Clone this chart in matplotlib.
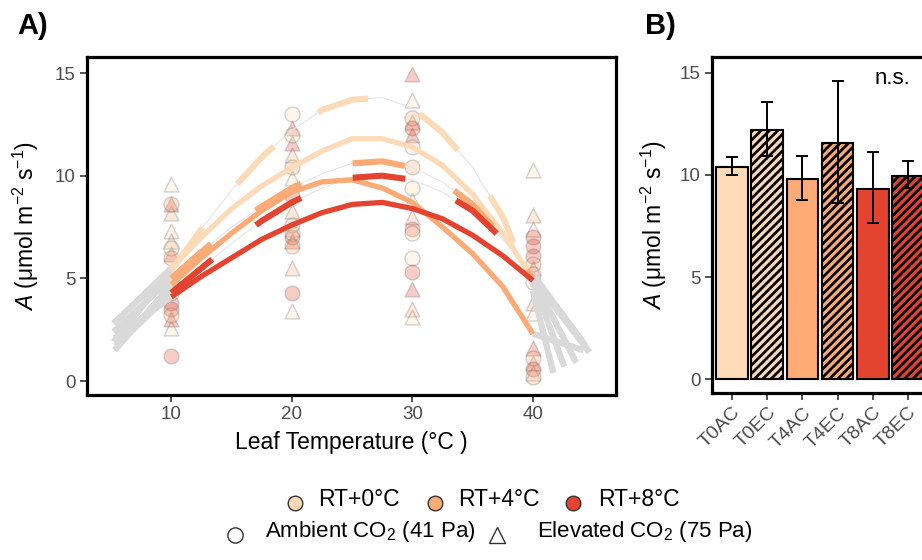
import numpy as np
import matplotlib
matplotlib.use('Agg')
import matplotlib.pyplot as plt
from matplotlib.lines import Line2D

plt.rcParams['font.family'] = ['Liberation Sans', 'DejaVu Sans']
plt.rcParams['mathtext.fontset'] = 'custom'
plt.rcParams['mathtext.rm'] = 'Liberation Sans'
plt.rcParams['mathtext.it'] = 'Liberation Sans:italic'
plt.rcParams['lines.scale_dashes'] = False
plt.rcParams['hatch.linewidth'] = 2.0

# ---------------- data ----------------
treat_colors = {'T0': '#FDDBB8', 'T4': '#FCAA76', 'T8': '#E4432F'}

# fitted temperature-response curves
fit_temp = [10, 12.5, 15, 17.5, 20, 22.5, 25, 27.5, 30, 32.5, 35, 37.5, 40]
fit_T0AC = [5.5, 7.0, 8.4, 9.5, 10.4, 11.2, 11.8, 11.8, 11.4, 10.5, 9.1, 7.2, 5.0]
fit_T4AC = [4.7, 6.0, 7.2, 8.3, 9.2, 9.7, 9.8, 9.4, 8.7, 7.5, 6.2, 4.6, 2.3]
fit_T8AC = [4.1, 5.1, 6.0, 6.9, 7.6, 8.2, 8.6, 8.7, 8.4, 7.9, 7.1, 6.1, 4.9]
fit_T0EC = [5.4, 7.4, 9.3, 10.9, 12.2, 13.2, 13.7, 13.8, 13.3, 12.1, 10.4, 8.0, 4.4]
fit_T4EC = [5.0, 6.3, 7.5, 8.5, 9.4, 10.1, 10.6, 10.7, 10.4, 9.7, 8.6, 7.0, 5.0]
fit_T8EC = [4.3, 5.5, 6.7, 7.8, 8.7, 9.4, 9.9, 10.0, 9.8, 9.2, 8.3, 6.9, 5.2]

# grey extrapolations beyond the measured range: (x_end, y_end)
ext_left_T = [5.2, 5.2, 5.3, 5.2, 5.3, 5.4]
ext_left_A = [2.8, 1.9, 1.5, 2.4, 2.1, 1.7]
ext_right_T = [44.7, 41.7, 44.2, 43.6, 42.6, 44.4]
ext_right_A = [1.4, 0.4, 1.5, 0.9, 0.7, 1.7]

# individual measurements
pt_temp = [10] * 18 + [20] * 18 + [30] * 18 + [40] * 18
pt_A = [9.6, 8.6, 8.2, 7.3, 6.8, 4.6, 2.6, 6.2, 3.0,
        8.6, 6.5, 6.0, 5.0, 3.8, 3.5, 3.2, 1.2, 4.3,
        11.6, 11.0, 12.3, 9.9, 8.3, 7.4, 6.8, 5.5, 3.4,
        13.0, 10.4, 9.0, 7.6, 7.0, 7.2, 6.6, 4.3, 12.0,
        14.95, 13.7, 12.6, 12.0, 8.8, 8.0, 4.5, 3.5, 3.1,
        12.8, 12.3, 11.4, 10.4, 9.4, 7.4, 7.2, 6.0, 5.3,
        10.3, 8.1, 7.4, 5.5, 3.8, 3.3, 1.6, 0.9, 0.4,
        7.0, 6.6, 6.1, 5.7, 5.2, 1.1, 0.6, 0.2, 4.8]
pt_trt = ['T0', 'T8', 'T4', 'T0', 'T4', 'T4', 'T0', 'T8', 'T8',
          'T4', 'T0', 'T4', 'T0', 'T8', 'T8', 'T4', 'T8', 'T0',
          'T8', 'T4', 'T8', 'T0', 'T4', 'T0', 'T8', 'T4', 'T0',
          'T0', 'T4', 'T8', 'T4', 'T8', 'T0', 'T4', 'T8', 'T0',
          'T8', 'T0', 'T4', 'T8', 'T0', 'T4', 'T8', 'T4', 'T0',
          'T4', 'T8', 'T0', 'T4', 'T0', 'T8', 'T0', 'T0', 'T8',
          'T0', 'T4', 'T0', 'T8', 'T4', 'T0', 'T8', 'T4', 'T0',
          'T8', 'T8', 'T8', 'T4', 'T0', 'T4', 'T8', 'T4', 'T0']
pt_co2 = (['EC'] * 9 + ['AC'] * 9) * 4

# panel B
bar_labels = ['T0AC', 'T0EC', 'T4AC', 'T4EC', 'T8AC', 'T8EC']
bar_mean = [10.41, 12.2, 9.82, 11.55, 9.31, 9.97]
bar_lo = [9.98, 10.93, 8.77, 8.61, 7.63, 9.35]
bar_hi = [10.87, 13.6, 10.93, 14.62, 11.13, 10.7]

# ---------------- figure ----------------
W, H = 922, 560
fig = plt.figure(figsize=(W / 100, H / 100), dpi=100)

def fx(px):
    return px / W

def fy(py):
    return 1 - py / H

axA = fig.add_axes([fx(87), fy(395), fx(616) - fx(87), fy(57) - fy(395)])
axB = fig.add_axes([fx(712), fy(393), fx(929) - fx(712), fy(57) - fy(393)])

tickcol = '#4D4D4D'
for ax in (axA, axB):
    for s in ax.spines.values():
        s.set_linewidth(2.3)
        s.set_color('black')
    ax.tick_params(axis='both', direction='out', length=5, width=1.2,
                   color='#333333', labelcolor=tickcol, labelsize=13.5, pad=3)
    ax.set_ylim(-0.68, 15.78)
    ax.set_yticks([0, 5, 10, 15])

# --- panel A
axA.set_xlim(3.0, 46.9)
axA.set_xticks([10, 20, 30, 40])

for t, a, tr, c in zip(pt_temp, pt_A, pt_trt, pt_co2):
    axA.scatter([t], [a], s=115, marker='o' if c == 'AC' else '^',
                facecolor=matplotlib.colors.to_rgba(treat_colors[tr], 0.27),
                edgecolor=(0.45, 0.45, 0.45, 0.3), linewidths=1.0, zorder=1)

curves = [('T0', False, fit_T0AC), ('T0', True, fit_T0EC),
          ('T4', False, fit_T4AC), ('T4', True, fit_T4EC),
          ('T8', False, fit_T8AC), ('T8', True, fit_T8EC)]

grey = '#D9D9D9'
for i, (tr, dashed, ys) in enumerate(curves):
    axA.plot([ext_left_T[i], fit_temp[0]], [ext_left_A[i], ys[0]],
             color=grey, lw=4.5, solid_capstyle='butt', zorder=2)
    axA.plot([fit_temp[-1], ext_right_T[i]], [ys[-1], ext_right_A[i]],
             color=grey, lw=4.5, solid_capstyle='butt', zorder=2)

for i, (tr, dashed, ys) in enumerate(curves):
    col = treat_colors[tr]
    if dashed:
        axA.plot(fit_temp, ys, color='#E2E2EA', lw=0.7, zorder=3)
        axA.plot(fit_temp, ys, color=col, lw=4.4, dashes=(38, 40),
                 dash_capstyle='butt', zorder=4)
    else:
        axA.plot(fit_temp, ys, color=col, lw=3.8, solid_capstyle='butt',
                 zorder=4)

axA.set_xlabel('Leaf Temperature (°C )', fontsize=16.5, labelpad=6)
axA.set_ylabel(r'$\mathit{A}$ (μmol m$^{-2}$ s$^{-1}$)', fontsize=16.5,
               labelpad=10)

# --- panel B
xpos = np.arange(1, len(bar_labels) + 1)
for i, lab in enumerate(bar_labels):
    col = treat_colors[lab[:2]]
    hatched = lab.endswith('EC')
    axB.bar(xpos[i], bar_mean[i], width=0.9, color=col, edgecolor='black',
            linewidth=1.5, hatch='////' if hatched else None, zorder=2)
    axB.errorbar(xpos[i], bar_mean[i],
                 yerr=[[bar_mean[i] - bar_lo[i]], [bar_hi[i] - bar_mean[i]]],
                 color='black', elinewidth=1.4, capsize=4, capthick=1.4,
                 zorder=3)
axB.set_xlim(0.43, 6.6)
axB.set_xticks(xpos)
axB.set_xticklabels(bar_labels, rotation=45, ha='right', va='top',
                    rotation_mode='anchor', fontsize=14)
axB.set_ylabel(r'$\mathit{A}$ (μmol m$^{-2}$ s$^{-1}$)', fontsize=16.5,
               labelpad=8)
axB.text(5.57, 14.75, 'n.s.', fontsize=16, ha='center', va='center')

# panel letters
fig.text(fx(33), fy(26), 'A)', fontsize=21, fontweight='bold',
         ha='center', va='center')
fig.text(fx(660), fy(26), 'B)', fontsize=21, fontweight='bold',
         ha='center', va='center')

# legend (drawn manually)
leg1 = [('RT+0°C', treat_colors['T0'], 295, 318),
        ('RT+4°C', treat_colors['T4'], 435, 458),
        ('RT+8°C', treat_colors['T8'], 573, 598)]
for lab, col, mx, tx in leg1:
    fig.add_artist(Line2D([fx(mx)], [fy(503)], marker='o', markersize=10.5,
                          markerfacecolor=col, markeredgecolor='#333333',
                          markeredgewidth=1.0, linestyle='none',
                          transform=fig.transFigure))
    fig.text(fx(tx), fy(500), lab, fontsize=16.5, ha='left', va='center')

leg2 = [('Ambient CO$_2$ (41 Pa)', 'o', 235, 265),
        ('Elevated CO$_2$ (75 Pa)', '^', 497, 537)]
for lab, mk, mx, tx in leg2:
    fig.add_artist(Line2D([fx(mx)], [fy(535)], marker=mk, markersize=11,
                          markerfacecolor='white', markeredgecolor='#333333',
                          markeredgewidth=1.0, linestyle='none',
                          transform=fig.transFigure))
    fig.text(fx(tx), fy(532), lab, fontsize=16, ha='left', va='center')

fig.savefig('out.png', dpi=100)
